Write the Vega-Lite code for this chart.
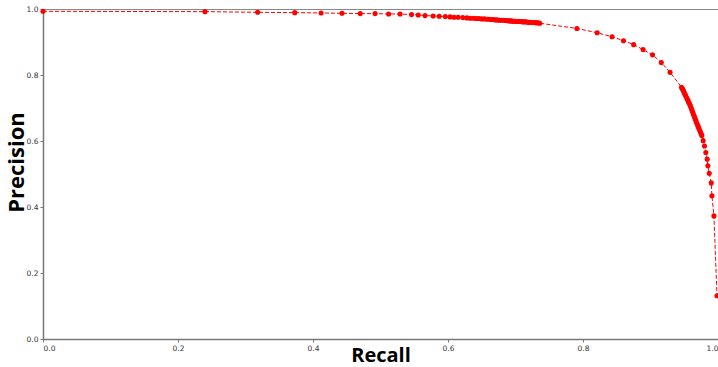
{
  "$schema": "https://vega.github.io/schema/vega-lite/v6.json",
  "autosize": {"type": "none"},
  "width": 675,
  "height": 330,
  "padding": {"left": 43, "top": 9, "right": 0, "bottom": 28},
  "background": "white",
  "config": {
    "view": {"stroke": "#888888", "strokeWidth": 1},
    "axis": {
      "grid": false,
      "domainColor": "#777777",
      "domainWidth": 1.5,
      "tickColor": "#777777",
      "tickSize": 3,
      "labelFont": "DejaVu Sans",
      "labelFontSize": 7.5,
      "labelColor": "#333333",
      "titleFont": "Open Sans",
      "titleFontWeight": "bold",
      "titleColor": "#000000"
    }
  },
  "data": {
    "values": [
      {"recall": 0.0, "precision": 0.993},
      {"recall": 0.24, "precision": 0.992},
      {"recall": 0.318, "precision": 0.990},
      {"recall": 0.373, "precision": 0.989},
      {"recall": 0.412, "precision": 0.988},
      {"recall": 0.443, "precision": 0.987},
      {"recall": 0.470, "precision": 0.986},
      {"recall": 0.492, "precision": 0.986},
      {"recall": 0.512, "precision": 0.985},
      {"recall": 0.529, "precision": 0.985},
      {"recall": 0.546, "precision": 0.983},
      {"recall": 0.556, "precision": 0.982},
      {"recall": 0.566, "precision": 0.980},
      {"recall": 0.578, "precision": 0.979},
      {"recall": 0.587, "precision": 0.978},
      {"recall": 0.596, "precision": 0.977},
      {"recall": 0.603, "precision": 0.976},
      {"recall": 0.609, "precision": 0.975},
      {"recall": 0.615, "precision": 0.975},
      {"recall": 0.622, "precision": 0.974},
      {"recall": 0.628, "precision": 0.973},
      {"recall": 0.633, "precision": 0.972},
      {"recall": 0.638, "precision": 0.972},
      {"recall": 0.642, "precision": 0.971},
      {"recall": 0.646, "precision": 0.971},
      {"recall": 0.650, "precision": 0.970},
      {"recall": 0.654, "precision": 0.970},
      {"recall": 0.658, "precision": 0.969},
      {"recall": 0.661, "precision": 0.969},
      {"recall": 0.664, "precision": 0.968},
      {"recall": 0.667, "precision": 0.968},
      {"recall": 0.670, "precision": 0.967},
      {"recall": 0.673, "precision": 0.967},
      {"recall": 0.676, "precision": 0.966},
      {"recall": 0.679, "precision": 0.966},
      {"recall": 0.682, "precision": 0.966},
      {"recall": 0.685, "precision": 0.965},
      {"recall": 0.688, "precision": 0.965},
      {"recall": 0.690, "precision": 0.964},
      {"recall": 0.692, "precision": 0.964},
      {"recall": 0.694, "precision": 0.964},
      {"recall": 0.696, "precision": 0.963},
      {"recall": 0.698, "precision": 0.963},
      {"recall": 0.700, "precision": 0.963},
      {"recall": 0.702, "precision": 0.962},
      {"recall": 0.704, "precision": 0.962},
      {"recall": 0.706, "precision": 0.962},
      {"recall": 0.708, "precision": 0.962},
      {"recall": 0.710, "precision": 0.961},
      {"recall": 0.712, "precision": 0.961},
      {"recall": 0.714, "precision": 0.961},
      {"recall": 0.716, "precision": 0.961},
      {"recall": 0.718, "precision": 0.960},
      {"recall": 0.720, "precision": 0.960},
      {"recall": 0.722, "precision": 0.960},
      {"recall": 0.724, "precision": 0.959},
      {"recall": 0.726, "precision": 0.959},
      {"recall": 0.728, "precision": 0.959},
      {"recall": 0.730, "precision": 0.958},
      {"recall": 0.732, "precision": 0.958},
      {"recall": 0.734, "precision": 0.958},
      {"recall": 0.736, "precision": 0.957},
      {"recall": 0.791, "precision": 0.941},
      {"recall": 0.821, "precision": 0.928},
      {"recall": 0.843, "precision": 0.916},
      {"recall": 0.860, "precision": 0.904},
      {"recall": 0.875, "precision": 0.892},
      {"recall": 0.889, "precision": 0.877},
      {"recall": 0.903, "precision": 0.861},
      {"recall": 0.916, "precision": 0.838},
      {"recall": 0.929, "precision": 0.808},
      {"recall": 0.946, "precision": 0.763},
      {"recall": 0.947, "precision": 0.759},
      {"recall": 0.948, "precision": 0.755},
      {"recall": 0.949, "precision": 0.751},
      {"recall": 0.950, "precision": 0.746},
      {"recall": 0.951, "precision": 0.742},
      {"recall": 0.952, "precision": 0.738},
      {"recall": 0.953, "precision": 0.733},
      {"recall": 0.954, "precision": 0.729},
      {"recall": 0.955, "precision": 0.725},
      {"recall": 0.956, "precision": 0.720},
      {"recall": 0.957, "precision": 0.716},
      {"recall": 0.958, "precision": 0.711},
      {"recall": 0.959, "precision": 0.707},
      {"recall": 0.960, "precision": 0.701},
      {"recall": 0.961, "precision": 0.696},
      {"recall": 0.962, "precision": 0.690},
      {"recall": 0.963, "precision": 0.685},
      {"recall": 0.964, "precision": 0.679},
      {"recall": 0.965, "precision": 0.674},
      {"recall": 0.966, "precision": 0.668},
      {"recall": 0.967, "precision": 0.663},
      {"recall": 0.968, "precision": 0.657},
      {"recall": 0.969, "precision": 0.652},
      {"recall": 0.970, "precision": 0.647},
      {"recall": 0.971, "precision": 0.642},
      {"recall": 0.972, "precision": 0.637},
      {"recall": 0.973, "precision": 0.632},
      {"recall": 0.974, "precision": 0.627},
      {"recall": 0.975, "precision": 0.622},
      {"recall": 0.976, "precision": 0.617},
      {"recall": 0.978, "precision": 0.601},
      {"recall": 0.980, "precision": 0.585},
      {"recall": 0.982, "precision": 0.565},
      {"recall": 0.984, "precision": 0.545},
      {"recall": 0.985, "precision": 0.525},
      {"recall": 0.987, "precision": 0.502},
      {"recall": 0.990, "precision": 0.473},
      {"recall": 0.991, "precision": 0.434},
      {"recall": 0.994, "precision": 0.373},
      {"recall": 0.9985, "precision": 0.131}
    ]
  },
  "encoding": {
    "x": {
      "field": "recall",
      "type": "quantitative",
      "scale": {"domain": [0, 1], "nice": false, "zero": false},
      "axis": {"title": "Recall", "values": [0, 0.2, 0.4, 0.6, 0.8, 1.0], "format": ".1f", "titleFontSize": 20, "titleY": 22, "titleBaseline": "alphabetic", "labelPadding": 2}
    },
    "y": {
      "field": "precision",
      "type": "quantitative",
      "scale": {"domain": [0, 1], "nice": false},
      "axis": {"title": "Precision", "values": [0, 0.2, 0.4, 0.6, 0.8, 1.0], "format": ".1f", "titleFontSize": 22, "titleX": -20, "titleY": 153, "titleBaseline": "alphabetic", "titleAngle": -90, "titleAlign": "center", "labelPadding": 2}
    }
  },
  "layer": [
    {"mark": {"type": "line", "color": "#ff0000", "strokeWidth": 1, "strokeDash": [4, 2], "interpolate": "linear"}},
    {"mark": {"type": "point", "filled": true, "color": "#ff0000", "opacity": 1, "size": 26}}
  ]
}
